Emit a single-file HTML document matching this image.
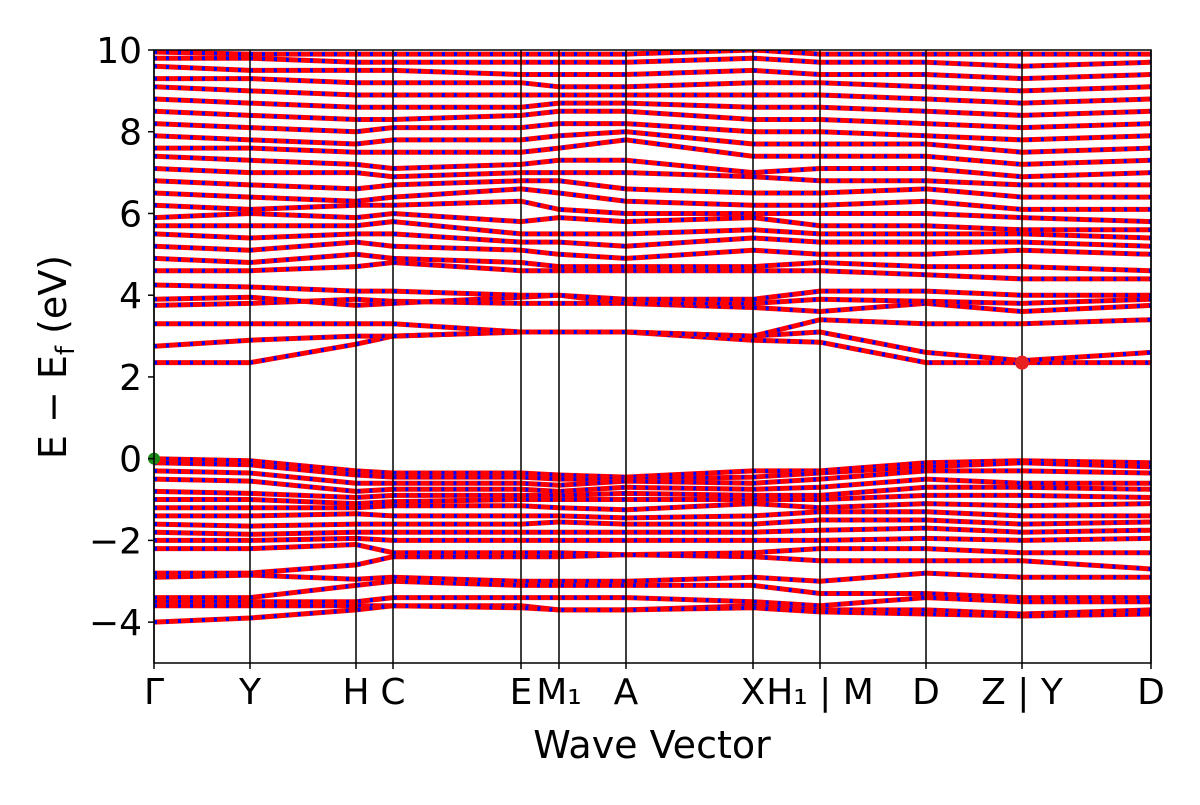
<!DOCTYPE html>
<html><head><meta charset="utf-8"><style>
body{margin:0;background:#fff}
svg{font-family:"DejaVu Sans","Liberation Sans",sans-serif}
</style></head><body>
<svg width="1200" height="800" viewBox="0 0 1200 800">
<defs><clipPath id="clip"><rect x="154" y="50" width="997" height="613"/></clipPath></defs>
<g id="bands" clip-path="url(#clip)"></g>
<g id="vlines"></g>
<g id="markers"></g>
<rect x="154" y="50" width="997" height="613" fill="none" stroke="#000" stroke-width="1.5"/>
<g id="yticks"></g>
<g id="xticks"></g>
<text x="652" y="758" font-size="38" text-anchor="middle">Wave Vector</text>
<text transform="translate(66,357) rotate(-90)" font-size="38" text-anchor="middle">E − E<tspan font-size="26" dy="8">f</tspan><tspan dy="-8"> (eV)</tspan></text>
</svg>
<script>
const kDist=[0,96,202,239,367,405,472,599,666,772,868,997];
const kLabels=["Γ","Y","H","C","E","M₁","A","X","H₁ | M","D","Z | Y","D"];
const yTicks=[-4,-2,0,2,4,6,8,10];
const valenceBands=[
[0,-0.05,-0.3,-0.35,-0.35,-0.4,-0.45,-0.3,-0.3,-0.1,-0.05,-0.1],
[-0.1,-0.15,-0.4,-0.45,-0.45,-0.5,-0.5,-0.45,-0.35,-0.2,-0.1,-0.2],
[-0.3,-0.35,-0.6,-0.6,-0.6,-0.65,-0.55,-0.6,-0.5,-0.3,-0.3,-0.35],
[-0.5,-0.55,-0.8,-0.75,-0.75,-0.8,-0.7,-0.75,-0.7,-0.5,-0.6,-0.6],
[-0.8,-0.85,-0.95,-0.9,-0.9,-0.9,-0.85,-0.9,-0.9,-0.7,-0.7,-0.75],
[-1.0,-1.0,-1.1,-1.05,-1.0,-1.0,-1.0,-1.0,-1.0,-0.9,-0.9,-0.95],
[-1.2,-1.2,-1.2,-1.15,-1.15,-1.2,-1.25,-1.1,-1.2,-1.1,-1.15,-1.1],
[-1.4,-1.4,-1.35,-1.4,-1.4,-1.4,-1.45,-1.4,-1.3,-1.3,-1.4,-1.4],
[-1.6,-1.65,-1.6,-1.6,-1.6,-1.55,-1.6,-1.6,-1.5,-1.5,-1.6,-1.55],
[-1.8,-1.85,-1.8,-1.8,-1.8,-1.8,-1.8,-1.8,-1.75,-1.7,-1.8,-1.75],
[-2.0,-2.0,-1.95,-2.0,-2.0,-2.0,-2.0,-2.0,-2.0,-1.95,-2.0,-1.95],
[-2.2,-2.2,-2.1,-2.3,-2.3,-2.3,-2.35,-2.3,-2.2,-2.2,-2.3,-2.3],
[-2.8,-2.8,-2.6,-2.4,-2.4,-2.4,-2.35,-2.4,-2.5,-2.5,-2.5,-2.7],
[-2.9,-2.85,-2.95,-2.9,-3.0,-3.0,-3.0,-2.9,-3.0,-2.8,-2.9,-2.9],
[-3.4,-3.4,-3.1,-3.0,-3.1,-3.1,-3.1,-3.1,-3.3,-3.3,-3.4,-3.4],
[-3.5,-3.5,-3.5,-3.4,-3.4,-3.4,-3.4,-3.5,-3.6,-3.4,-3.5,-3.5],
[-3.6,-3.6,-3.6,-3.6,-3.6,-3.7,-3.7,-3.6,-3.7,-3.7,-3.8,-3.7],
[-4.0,-3.9,-3.7,-3.6,-3.65,-3.7,-3.7,-3.65,-3.75,-3.8,-3.85,-3.8]];
const conductionBands=[
[2.35,2.35,2.8,3.0,3.1,3.1,3.1,2.9,2.85,2.35,2.35,2.35],
[2.75,2.9,3.0,3.0,3.1,3.1,3.1,3.0,3.1,2.6,2.4,2.6],
[3.3,3.3,3.3,3.3,3.1,3.1,3.1,3.0,3.4,3.3,3.3,3.4],
[3.75,3.8,3.9,3.85,3.8,3.8,3.8,3.7,3.6,3.8,3.6,3.75],
[3.9,3.95,3.75,3.8,3.95,4.0,3.8,3.8,3.9,3.85,3.8,3.9],
[4.25,4.2,4.1,4.1,4.0,4.0,3.9,3.9,4.1,4.1,4.0,4.0],
[4.6,4.6,4.7,4.8,4.6,4.6,4.6,4.6,4.6,4.5,4.4,4.4],
[4.9,4.8,5.0,4.9,4.8,4.7,4.7,4.7,4.8,4.7,4.7,4.6],
[5.2,5.1,5.3,5.2,5.1,5.0,4.9,5.1,5.0,5.0,5.1,5.0],
[5.5,5.4,5.5,5.5,5.3,5.3,5.2,5.4,5.3,5.3,5.3,5.2],
[5.7,5.7,5.7,5.8,5.5,5.5,5.5,5.6,5.5,5.5,5.5,5.4],
[5.9,6.0,5.9,6.0,5.8,5.9,5.8,5.9,5.7,5.7,5.6,5.6],
[6.2,6.1,6.2,6.2,6.3,6.1,6.0,6.0,6.0,6.0,5.9,5.8],
[6.5,6.4,6.3,6.4,6.6,6.5,6.3,6.2,6.2,6.3,6.1,6.1],
[6.8,6.7,6.6,6.7,6.8,6.8,6.6,6.5,6.5,6.6,6.4,6.4],
[7.1,7.0,7.0,6.9,7.0,7.0,7.0,6.9,6.8,6.8,6.7,6.7],
[7.4,7.3,7.2,7.1,7.2,7.3,7.3,7.0,7.1,7.1,6.9,7.0],
[7.6,7.6,7.5,7.5,7.5,7.6,7.8,7.4,7.4,7.4,7.2,7.3],
[7.9,7.8,7.7,7.8,7.8,7.9,8.0,7.7,7.7,7.7,7.5,7.6],
[8.2,8.1,8.0,8.1,8.1,8.2,8.2,8.0,8.0,7.9,7.8,7.9],
[8.5,8.4,8.3,8.3,8.4,8.5,8.5,8.3,8.3,8.2,8.1,8.2],
[8.8,8.7,8.6,8.6,8.6,8.7,8.7,8.6,8.6,8.5,8.4,8.5],
[9.1,9.0,8.9,8.9,8.9,8.9,8.9,8.9,8.9,8.8,8.7,8.8],
[9.3,9.3,9.2,9.2,9.2,9.1,9.1,9.2,9.2,9.1,9.0,9.1],
[9.6,9.5,9.5,9.5,9.4,9.4,9.4,9.5,9.4,9.4,9.3,9.4],
[9.8,9.8,9.7,9.7,9.7,9.7,9.7,9.8,9.7,9.7,9.6,9.7],
[9.95,9.9,9.9,9.9,9.9,9.9,9.9,10,9.9,9.9,9.9,9.9]];
const vbmPoint=[0,0];
const cbmPoint=[868,2.35];

const NS="http://www.w3.org/2000/svg";
const X0=154,X1=1151,Y0=50,Y1=663,EMIN=-5,EMAX=10,KMAX=kDist[kDist.length-1];
const xs=k=>X0+(k/KMAX)*(X1-X0);
const ys=e=>Y1-(e-EMIN)/(EMAX-EMIN)*(Y1-Y0);
function mk(tag,attrs,parent){const el=document.createElementNS(NS,tag);for(const a in attrs)el.setAttribute(a,attrs[a]);parent.appendChild(el);return el;}

const gB=document.getElementById('bands');
[...valenceBands,...conductionBands].forEach((b,i)=>{
  const pts=b.map((e,j)=>xs(kDist[j]).toFixed(1)+","+ys(e).toFixed(1)).join(" ");
  const r=mk('polyline',{points:pts,fill:'none',stroke:'#ff0000','stroke-width':5},gB);
  
  
  const bl=mk('polyline',{points:pts,fill:'none',stroke:'#0000ff','stroke-width':4,'stroke-dasharray':'3 9'},gB);
  
  
});

const gV=document.getElementById('vlines'),gX=document.getElementById('xticks');
kDist.forEach((k,i)=>{
  const x=xs(k);
  const l=mk('line',{x1:x,x2:x,y1:Y0,y2:Y1,stroke:'#000','stroke-width':1.5},gV);
  
  
  mk('line',{x1:x,x2:x,y1:Y1,y2:Y1+6,stroke:'#000','stroke-width':1.5},gX);
  const t=mk('text',{x:x,y:704,'font-size':36,'text-anchor':'middle'},gX);
  t.textContent=kLabels[i];
  
  
});

const gY=document.getElementById('yticks');
yTicks.forEach(v=>{
  const y=ys(v);
  mk('line',{x1:X0-6,x2:X0,y1:y,y2:y,stroke:'#000','stroke-width':1.5},gY);
  const t=mk('text',{x:X0-12,y:y+13,'font-size':36,'text-anchor':'end'},gY);
  t.textContent=v<0?"−"+Math.abs(v):String(v);
  
  
});

const gM=document.getElementById('markers');
const m1=mk('circle',{cx:xs(vbmPoint[0]),cy:ys(vbmPoint[1]),r:6,fill:'#1a8a1a'},gM);


const m2=mk('circle',{cx:xs(cbmPoint[0]),cy:ys(cbmPoint[1]),r:7,fill:'#e82020'},gM);


</script>
</body></html>
